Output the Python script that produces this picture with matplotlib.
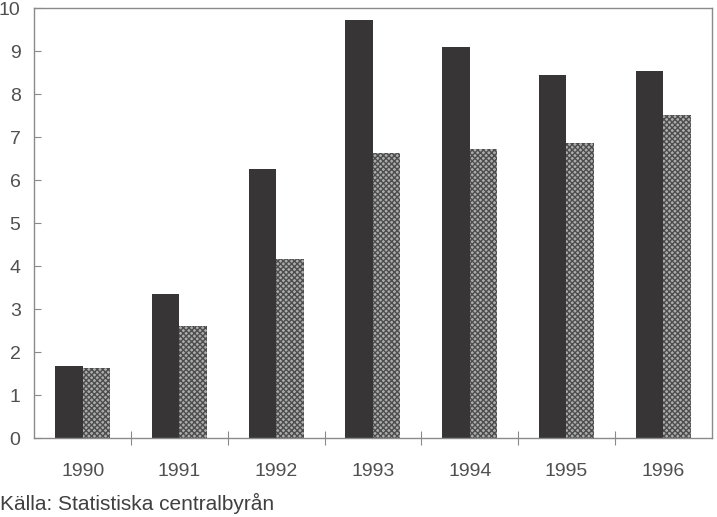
import numpy as np
import matplotlib
matplotlib.use("Agg")
import matplotlib.pyplot as plt

# data
years = ["1990", "1991", "1992", "1993", "1994", "1995", "1996"]
dark_values = [1.68, 3.34, 6.26, 9.72, 9.10, 8.44, 8.53]
light_values = [1.62, 2.60, 4.16, 6.62, 6.72, 6.87, 7.51]
y_ticks = list(range(0, 11))
source_text = "Källa: Statistiska centralbyrån"

plt.rcParams['font.family'] = ['Liberation Sans', 'DejaVu Sans']
plt.rcParams['hatch.linewidth'] = 1.0

fig = plt.figure(figsize=(7.17, 5.17), dpi=100)
ax = fig.add_axes([0.0481, 0.1528, 0.9445, 0.8317])

x = np.arange(len(years))
w = 0.285
ax.bar(x - 0.145, dark_values, width=w, color='#383536', edgecolor='none')
ax.bar(x + 0.14, light_values, width=w, facecolor='#acacac',
       edgecolor='#4d4d4d', linewidth=0, hatch='xxxxxx')

ax.set_xlim(-0.5, len(years) - 0.5)
ax.set_ylim(0, 10)

spine_col = '#8a8a8a'
for s in ax.spines.values():
    s.set_color(spine_col)
    s.set_linewidth(1.0)

text_col = '#505050'
ax.set_yticks(y_ticks)
ax.set_yticklabels([str(t) for t in y_ticks])
ax.tick_params(axis='y', direction='in', length=5, width=0.8, color=spine_col,
               labelsize=14, labelcolor=text_col, pad=10)

# labels at category centres, ticks at the boundaries
ax.set_xticks(x)
ax.set_xticklabels(years)
ax.tick_params(axis='x', which='major', length=0, labelsize=14,
               labelcolor=text_col, pad=18)
ax.set_xticks(x[:-1] + 0.5, minor=True)
ax.tick_params(axis='x', which='minor', direction='inout', length=10,
               width=0.8, color=spine_col)

fig.text(0.0, 0.027, source_text, fontsize=15, color='#404040',
         ha='left', va='center')

fig.savefig("out.png", dpi=100)
